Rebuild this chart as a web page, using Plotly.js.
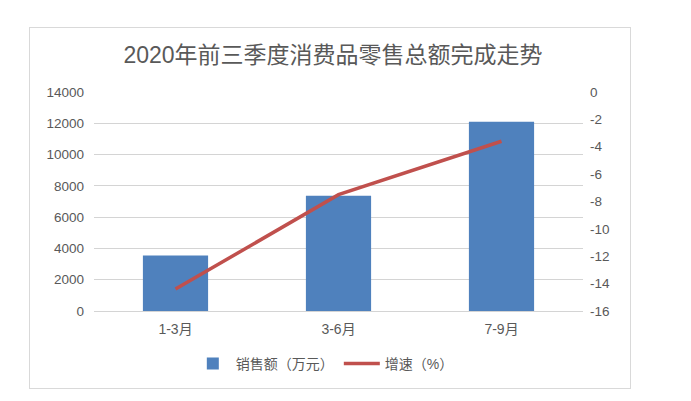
<!DOCTYPE html>
<html>
<head>
<meta charset="utf-8">
<script src="https://cdn.plot.ly/plotly-3.0.1.min.js"></script>
<style>
  html, body { margin: 0; padding: 0; background: #fff; }
  #frame {
    position: absolute; left: 29px; top: 27px;
    width: 600px; height: 360px;
    border: 1px solid #d9d9d9;
  }
  #myChart { width: 600px; height: 360px; }
</style>
</head>
<body>
<div id="frame"><div id="myChart"></div></div>
<script>
// values
const categories = ['1-3月', '3-6月', '7-9月'];
const sales = [3540, 7360, 12100];      // 销售额（万元）
const growth = [-14.4, -7.5, -3.6];     // 增速（%）

const leftTicks = [0, 2000, 4000, 6000, 8000, 10000, 12000, 14000];
const rightTicks = [0, -2, -4, -6, -8, -10, -12, -14, -16];

const fontFamily = 'Liberation Sans, Noto Sans CJK SC, sans-serif';
const grey = '#595959';

var bars = {
    x: categories,
    y: sales,
    type: 'bar',
    name: '销售额（万元）',
    marker: { color: '#4f81bd' },
    yaxis: 'y'
};

var line = {
    x: categories,
    y: growth,
    type: 'scatter',
    mode: 'lines',
    name: '增速（%）',
    line: { color: '#c0504d', width: 3.5 },
    yaxis: 'y2'
};

var layout = {
    width: 600,
    height: 360,
    margin: { l: 64, r: 47, t: 64, b: 77 },
    paper_bgcolor: '#fff',
    plot_bgcolor: '#fff',
    font: { family: fontFamily, color: grey, size: 13 },
    title: {
        text: '2020年前三季度消费品零售总额完成走势',
        font: { family: fontFamily, size: 23, color: grey },
        xref: 'container', x: 0.505, xanchor: 'center',
        yref: 'container', y: 0.925, yanchor: 'middle'
    },
    bargap: 0.6,
    xaxis: {
        type: 'category',
        showgrid: false,
        showline: false,
        ticks: '',
        ticklabelstandoff: 8,
        tickfont: { size: 14, color: grey }
    },
    yaxis: {
        range: [0, 14000],
        tickvals: leftTicks,
        ticktext: leftTicks.map(String),
        showgrid: true,
        gridcolor: '#d4d4d4',
        gridwidth: 1,
        zeroline: true,
        zerolinecolor: '#d4d4d4',
        zerolinewidth: 1,
        ticks: '',
        ticklabelstandoff: 9,
        tickfont: { size: 13.5, color: grey }
    },
    yaxis2: {
        range: [-16, 0],
        tickvals: rightTicks,
        ticktext: rightTicks.map(String),
        overlaying: 'y',
        side: 'right',
        showgrid: false,
        zeroline: false,
        ticks: '',
        ticklabelstandoff: 6,
        tickfont: { size: 13.5, color: grey }
    },
    showlegend: true,
    legend: {
        orientation: 'h',
        xref: 'paper', x: 0.471, xanchor: 'center',
        yref: 'container', y: 0.067, yanchor: 'middle',
        itemwidth: 36,
        font: { size: 14, color: grey },
        traceorder: 'normal'
    }
};

Plotly.newPlot('myChart', [bars, line], layout, { displayModeBar: false, staticPlot: true });
</script>
</body>
</html>
